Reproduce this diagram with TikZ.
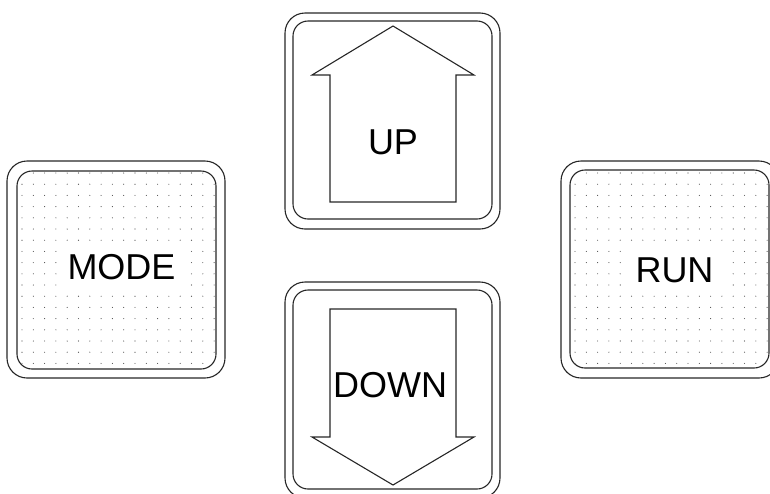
\documentclass[tikz,border=0pt]{standalone}
\usepackage{fontspec}
\setmainfont{Liberation Sans}
\begin{document}
\begin{tikzpicture}[x=1pt,y=-1pt,
  outerbox/.style={draw=black!85,line width=1.1pt,rounded corners=20pt,inner sep=0pt},
  innerbox/.style={draw=black!85,line width=1.1pt,rounded corners=15pt,inner sep=0pt},
  arrowshape/.style={draw=black!85,line width=1.1pt,line join=miter},
  label/.style={font=\fontsize{36}{40}\selectfont,anchor=base,inner sep=0pt},
  whitelabel/.style={label,fill=white,text height=26pt,text depth=7pt,inner xsep=9pt,inner ysep=6pt},
  dot/.style={fill=black!70}]
\useasboundingbox (0,0) rectangle (770,493);

% MODE button
\node[outerbox,minimum width=218pt,minimum height=217pt] (modeO) at (116,269.5) {};
\node[innerbox,minimum width=199pt,minimum height=198pt] (modeI) at (116.5,270) {};
\begin{scope}
  \clip[rounded corners=15pt] (modeI.south west) rectangle (modeI.north east);
  \foreach \i in {0,...,17}{
    \foreach \j in {0,...,17}{
      \fill[dot] (22+\i*11.3,173+\j*11.2) circle (0.55pt);
    }
  }
\end{scope}
\node[whitelabel] (modeT) at (121.5,279) {MODE};

% RUN button
\node[outerbox,minimum width=218pt,minimum height=217pt] (runO) at (670,269.5) {};
\node[innerbox,minimum width=199pt,minimum height=198pt] (runI) at (669.5,269) {};
\begin{scope}
  \clip[rounded corners=15pt] (runI.south west) rectangle (runI.north east);
  \foreach \i in {0,...,17}{
    \foreach \j in {0,...,17}{
      \fill[dot] (575+\i*11.3,173+\j*11.2) circle (0.55pt);
    }
  }
\end{scope}
\node[whitelabel] (runT) at (674.5,282) {RUN};

% UP button
\node[outerbox,minimum width=215pt,minimum height=216pt] (upO) at (392.5,121) {};
\node[innerbox,minimum width=199pt,minimum height=198pt] (upI) at (392.5,120) {};
\draw[arrowshape] (393,26) -- (474,75) -- (456,75) -- (456,202) -- (330,202) -- (330,75) -- (312,75) -- cycle;
\node[label] (upT) at (393,154) {UP};

% DOWN button
\node[outerbox,minimum width=215pt,minimum height=216pt] (downO) at (392.5,390) {};
\node[innerbox,minimum width=199pt,minimum height=199pt] (downI) at (392.5,389.5) {};
\draw[arrowshape] (330,309) -- (456,309) -- (456,437) -- (474,437) -- (393,485) -- (312,437) -- (330,437) -- cycle;
\node[label] (downT) at (390,397) {DOWN};
\end{tikzpicture}
\end{document}
